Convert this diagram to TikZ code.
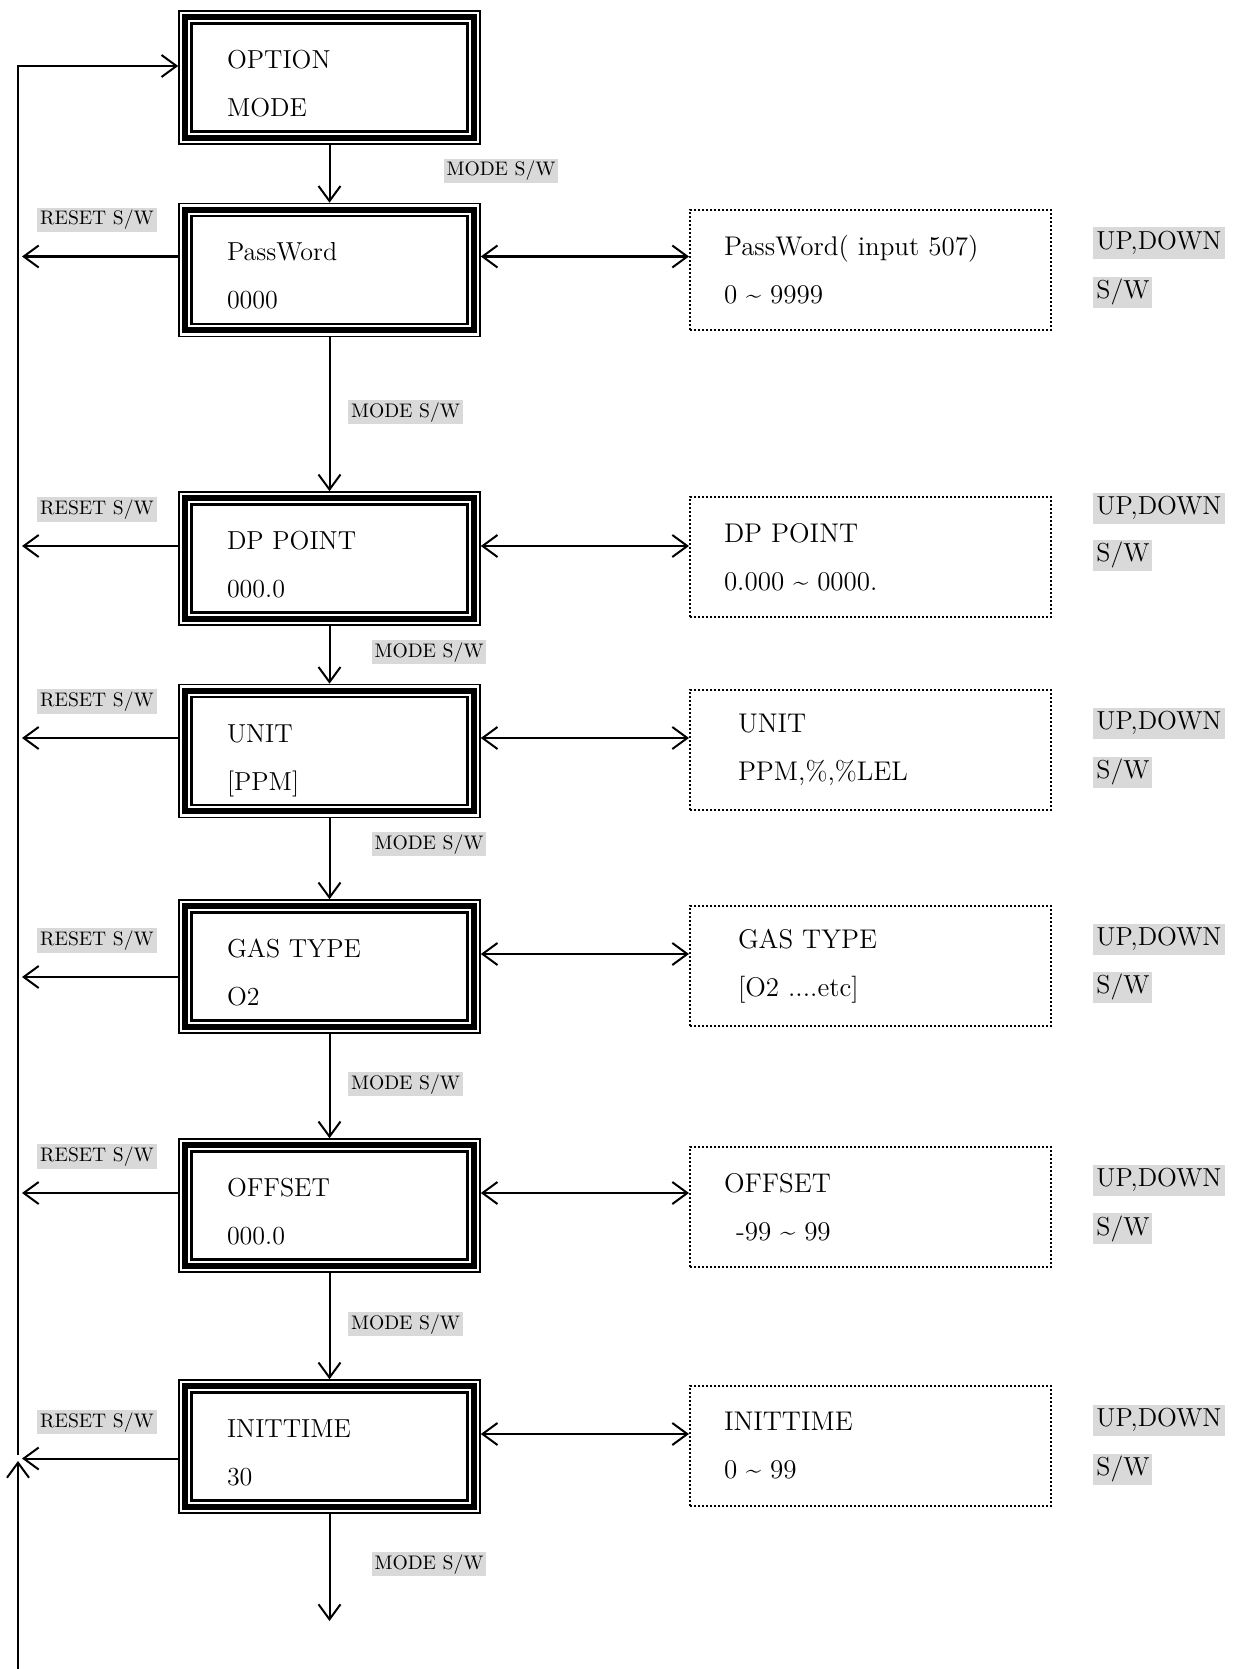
\documentclass[tikz,border=0pt]{standalone}
\usepackage{tikz}
\usetikzlibrary{arrows.meta}

\begin{document}
\begin{tikzpicture}[x=0.5pt,y=-0.5pt,
    >={Straight Barb[length=7.5pt,width=11pt]},
    panel/.style={draw,line width=0.8pt,minimum width=150.5pt,minimum height=66.5pt,
      inner xsep=24pt,text width=102.5pt,align=left,text height=12pt,text depth=21pt,
      font=\fontsize{13}{24}\selectfont},
    rangebox/.style={draw,line width=1pt,dash pattern=on 1pt off 1pt,
      minimum width=180.5pt,minimum height=60pt,inner xsep=17pt,text width=146.5pt,
      align=left,font=\fontsize{13.5}{24}\selectfont},
    swtag/.style={fill=black!15,inner sep=1.5pt,text height=7.2pt,text depth=2.2pt,
      font=\fontsize{9.8}{11}\selectfont},
    keytag/.style={fill=black!15,anchor=west,inner sep=1.5pt,text height=9.5pt,
      text depth=3pt,font=\fontsize{13}{15}\selectfont}]
  \useasboundingbox (0,0) rectangle (1236,1669);

  % option mode menu
  \node[panel] (opt)  at (329.5,77.5)   {OPTION\\MODE};
  \node[panel] (pw)   at (329.5,270)    {PassWord\\0000};
  \node[panel] (dp)   at (329.5,558.5)  {DP POINT\\000.0};
  \node[panel] (unit) at (329.5,751)    {UNIT\\{}[PPM]};
  \node[panel] (gas)  at (329.5,966.5)  {GAS TYPE\\O2};
  \node[panel] (offs) at (329.5,1205.5) {OFFSET\\000.0};
  \node[panel] (init) at (329.5,1446.5) {INITTIME\\30};

  \foreach \b in {opt,pw,dp,unit,gas,offs,init}{
    \draw[line width=3pt] ([shift={(3.5pt,-3.5pt)}]\b.north west)
      rectangle ([shift={(-3.5pt,3.5pt)}]\b.south east);
    \draw[line width=1.2pt] ([shift={(6.6pt,-6.6pt)}]\b.north west)
      rectangle ([shift={(-6.6pt,6.6pt)}]\b.south east);
  }

  % setting ranges
  \node[rangebox] (pwr)   at (870.5,270)  {PassWord( input 507)\\0 \textasciitilde{} 9999};
  \node[rangebox] (dpr)   at (870.5,557)  {DP POINT\\0.000 \textasciitilde{} 0000.};
  \node[rangebox] (unitr) at (870.5,750)  {\hspace*{7pt}UNIT\\\hspace*{7pt}PPM,\%,\%LEL};
  \node[rangebox] (gasr)  at (870.5,966)  {\hspace*{7pt}GAS TYPE\\\hspace*{7pt}[O2 ....etc]};
  \node[rangebox] (offsr) at (870.5,1207) {OFFSET\\\hspace*{6pt}-99 \textasciitilde{} 99};
  \node[rangebox] (initr) at (870.5,1446) {INITTIME\\0 \textasciitilde{} 99};

  \foreach \ya/\yb [count=\i] in {243/292,508/555,723/772,939/987,1180/1228.5,1420/1469}{
    \node[keytag] (ud\i) at (1093,\ya) {UP,DOWN};
    \node[keytag] (sw\i) at (1093,\yb) {S/W};
  }

  % mode switch
  \coordinate (last) at (329.5,1621);
  \path[->,line width=1pt]
    (opt)  edge (pw)
    (pw)   edge (dp)
    (dp)   edge (unit)
    (unit) edge (gas)
    (gas)  edge (offs)
    (offs) edge (init)
    (init) edge (last);
  \foreach \x/\y [count=\i] in {501/171,405.5/412,429/652,429/844,405.5/1084,405.5/1324,429/1564}
    \node[swtag] (md\i) at (\x,\y) {MODE S/W};

  % up/down and reset switch
  \foreach \b/\r/\ya/\yb in {pw/pwr/256.5/256.5,dp/dpr/546/546,unit/unitr/738/738,
      gas/gasr/954/977,offs/offsr/1193/1193,init/initr/1434/1458.5}{
    \coordinate (\b-rst) at (22,\yb);
    \draw[<->,line width=1pt] (\b.east |- 0,\ya) -- (\r.west |- 0,\ya);
    \draw[->,line width=1pt] (\b.west |- \b-rst) -- (\b-rst);
    \node[swtag] (\b-tag) at (97,\yb-36.5) {RESET S/W};
  }

  % back to option mode
  \coordinate (railtop) at (18,66);
  \coordinate (railmid) at (18,1455);
  \coordinate (railend) at (18,1669);
  \coordinate (railtip) at (18,1461);
  \draw[->,line width=1pt] (railmid) -- (railtop) -- (opt.west |- railtop);
  \draw[->,line width=1pt] (railend) -- (railtip);
\end{tikzpicture}
\end{document}
